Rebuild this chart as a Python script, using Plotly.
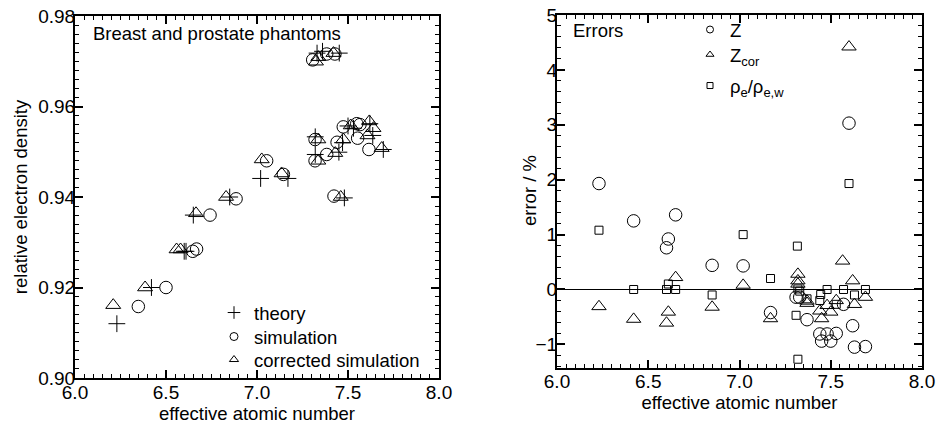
import plotly.graph_objects as go

# ---------------- left panel data ----------------
theory_z = [6.23, 6.42, 6.60, 6.61, 6.65, 6.85, 7.02, 7.17, 7.48, 7.32, 7.32, 7.45,
            7.50, 7.53, 7.636, 7.62, 7.694, 7.33, 7.36, 7.452, 7.47]
theory_rho = [0.912, 0.920, 0.928, 0.928, 0.936, 0.940, 0.9441, 0.9441, 0.9398, 0.9533, 0.9494, 0.9499,
              0.9557, 0.9552, 0.9536, 0.9562, 0.9505, 0.9718, 0.9722, 0.9718, 0.952]

sim_z = [6.348, 6.50, 6.647, 6.668, 6.742, 6.885, 7.053, 7.145, 7.423, 7.319, 7.319, 7.383,
         7.44, 7.474, 7.548, 7.553, 7.615, 7.306, 7.383, 7.428, 7.566]
sim_rho = [0.9158, 0.920, 0.928, 0.9285, 0.936, 0.9396, 0.948, 0.945, 0.9402, 0.9527, 0.948, 0.9494,
           0.9521, 0.9555, 0.9562, 0.953, 0.9505, 0.9703, 0.9716, 0.9716, 0.956]

cor_z = [6.21, 6.385, 6.558, 6.58, 6.665, 6.83, 7.026, 7.135, 7.46, 7.337, 7.337, 7.43,
         7.474, 7.515, 7.617, 7.64, 7.607, 7.685, 7.324, 7.337, 7.42]
cor_rho = [0.9161, 0.920, 0.9284, 0.9284, 0.9364, 0.940, 0.9483, 0.9452, 0.940, 0.9527, 0.948, 0.9497,
           0.9527, 0.9558, 0.9567, 0.9552, 0.9536, 0.9508, 0.9699, 0.9709, 0.9718]

# ---------------- right panel data ----------------
errz_x = [6.23, 6.42, 6.61, 6.60, 6.65, 6.85, 7.02, 7.17, 7.31, 7.33, 7.37, 7.44, 7.48, 7.53,
          7.45, 7.50, 7.57, 7.62, 7.63, 7.69, 7.60]
errz_y = [1.93, 1.25, 0.92, 0.76, 1.36, 0.44, 0.43, -0.42, -0.14, -0.14, -0.55, -0.81, -0.81, -0.80,
          -0.94, -0.94, -0.27, -0.66, -1.05, -1.04, 3.03]

errzc_x = [6.23, 6.42, 6.61, 6.60, 6.65, 6.85, 7.02, 7.17, 7.32, 7.32, 7.32, 7.37, 7.37, 7.44,
           7.45, 7.48, 7.50, 7.53, 7.62, 7.63, 7.69, 7.565, 7.60]
errzc_y = [-0.31, -0.54, -0.41, -0.61, 0.22, -0.32, 0.08, -0.53, 0.28, 0.16, 0.10, -0.21, -0.25, -0.39,
           -0.53, -0.29, -0.41, -0.20, 0.16, -0.27, -0.14, 0.52, 4.42]

errrho_x = [6.23, 6.42, 6.61, 6.60, 6.65, 6.85, 7.02, 7.17, 7.32, 7.33, 7.31, 7.32, 7.317, 7.37,
            7.44, 7.445, 7.48, 7.53, 7.57, 7.63, 7.69, 7.60]
errrho_y = [1.08, 0.0, 0.10, 0.0, 0.0, -0.10, 1.00, 0.20, 0.01, -0.03, -0.47, -1.27, 0.79, -0.17,
            -0.20, -0.09, 0.0, -0.27, 0.0, -0.10, 0.0, 1.93]

left_xticks = [6.0, 6.5, 7.0, 7.5, 8.0]
left_yticks = [0.90, 0.92, 0.94, 0.96, 0.98]
right_yticks = [-1, 0, 1, 2, 3, 4, 5]

FONT = "Liberation Sans, Arial, Helvetica, sans-serif"
FS = 18.5

fig = go.Figure()

def sc(x, y, sym, size, xa, ya, name=None, legend=None, show=False):
    return go.Scatter(x=x, y=y, mode="markers", xaxis=xa, yaxis=ya, name=name,
                      showlegend=show, legend=legend,
                      marker=dict(symbol=sym, size=size, color="black",
                                  line=dict(color="black", width=1)))

# left
fig.add_trace(sc(theory_z, theory_rho, "cross-thin-open", 12, "x", "y"))
fig.add_trace(sc(sim_z, sim_rho, "circle-open", 12.5, "x", "y"))
fig.add_trace(sc(cor_z, cor_rho, "triangle-up-open", 13, "x", "y"))
# left legend entries
fig.add_trace(sc([None], [None], "cross-thin-open", 9, "x", "y", "theory", "legend", True))
fig.add_trace(sc([None], [None], "circle-open", 8, "x", "y", "simulation", "legend3", True))
fig.add_trace(sc([None], [None], "triangle-up-open", 8, "x", "y", "corrected simulation", "legend4", True))

# right
fig.add_trace(sc(errz_x, errz_y, "circle-open", 12.5, "x2", "y2"))
fig.add_trace(sc(errzc_x, errzc_y, "triangle-up-open", 12.5, "x2", "y2"))
fig.add_trace(sc(errrho_x, errrho_y, "square-open", 8, "x2", "y2"))
fig.add_trace(sc([None], [None], "circle-open", 7, "x2", "y2", "Z", "legend2", True))
fig.add_trace(sc([None], [None], "triangle-up-open", 7, "x2", "y2", "Z<sub>cor</sub>", "legend5", True))
fig.add_trace(sc([None], [None], "square-open", 6, "x2", "y2", "ρ<sub>e</sub>/ρ<sub>e,w</sub>", "legend6", True))

W, H = 938, 426
def px(v): return v / W
def py(v): return 1 - v / H

axis_common = dict(showline=True, linecolor="black", linewidth=2, mirror="ticks",
                   ticks="inside", ticklen=8, tickwidth=1.5, tickcolor="black",
                   showgrid=False, zeroline=False, automargin=False,
                   tickfont=dict(family=FONT, size=19, color="black"),
                   title_font=dict(family=FONT, size=FS, color="black"))

def leg(x, y):
    return dict(x=px(x), y=py(y), xanchor="left", yanchor="middle",
                bgcolor="rgba(0,0,0,0)", borderwidth=0,
                font=dict(family=FONT, size=FS, color="black"))

fig.update_layout(
    width=W, height=H, margin=dict(l=0, r=0, t=0, b=0, autoexpand=False),
    paper_bgcolor="white", plot_bgcolor="white",
    font=dict(family=FONT, size=FS, color="black"),
    xaxis=dict(domain=[px(75), px(439)], range=[6.0, 8.0], tickvals=left_xticks,
               tickformat=".1f", anchor="y", ticklabelstandoff=-4,
               minor=dict(dtick=0.05, ticklen=4, tickwidth=1, tickcolor="black", ticks="inside"),
               title=dict(text="effective atomic number", standoff=4), **axis_common),
    yaxis=dict(domain=[py(378), py(16)], range=[0.90, 0.98], tickvals=left_yticks,
               tickformat=".2f", anchor="x", ticklabelstandoff=-6,
               minor=dict(dtick=0.002, ticklen=4, tickwidth=1, tickcolor="black", ticks="inside"),
               title=dict(text="relative electron density", standoff=6), **axis_common),
    xaxis2=dict(domain=[px(557), px(922)], range=[6.0, 8.0], tickvals=left_xticks,
                tickformat=".1f", anchor="y2", ticklabelstandoff=-5,
                minor=dict(dtick=0.05, ticklen=4, tickwidth=1, tickcolor="black", ticks="inside"),
                title=dict(text="effective atomic number", standoff=2), **axis_common),
    yaxis2=dict(domain=[py(368), py(15)], range=[-1.43, 5.0], tickvals=right_yticks,
                anchor="x2", ticklabelstandoff=-6,
                minor=dict(dtick=0.2, ticklen=4, tickwidth=1, tickcolor="black", ticks="inside"),
                **axis_common),
    legend=leg(214, 313),
    legend3=leg(214, 337),
    legend4=leg(214, 360),
    legend2=leg(690, 30),
    legend5=leg(690, 55),
    legend6=leg(690, 86),
    annotations=[
        dict(text="Breast and prostate phantoms", xref="paper", yref="paper",
             x=px(91), y=py(33), xanchor="left", yanchor="middle", showarrow=False,
             font=dict(family=FONT, size=FS, color="black")),
        dict(text="Errors", xref="paper", yref="paper",
             x=px(571), y=py(30), xanchor="left", yanchor="middle", showarrow=False,
             font=dict(family=FONT, size=FS, color="black")),
        dict(text="error / %", xref="paper", yref="paper", textangle=-90,
             x=px(530), y=py(191), xanchor="center", yanchor="middle", showarrow=False,
             font=dict(family=FONT, size=FS, color="black")),
    ],
)
fig.update_yaxes(zeroline=True, zerolinecolor="black", zerolinewidth=1.2, selector=dict(anchor="x2"))

fig.write_html("out.html")
